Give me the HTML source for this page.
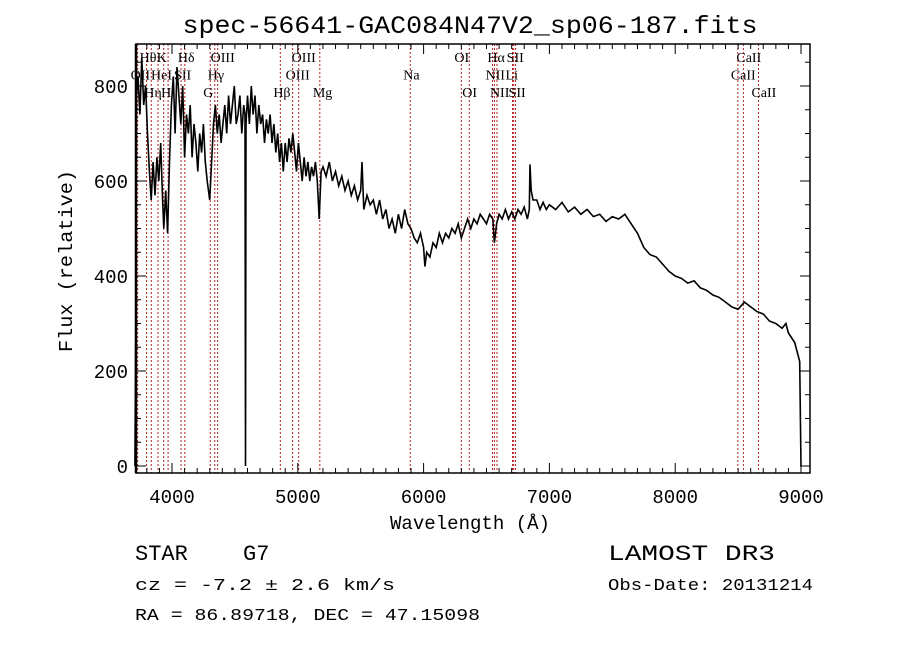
<!DOCTYPE html>
<html><head><meta charset="utf-8"><style>
html,body{margin:0;padding:0;background:#fff;}
svg{display:block;}
.mono{font-family:"Liberation Mono",monospace;fill:#000;}
.ser{font-family:"Liberation Serif",serif;fill:#000;font-size:14px;}
</style></head><body>
<svg id="chart" width="900" height="649" viewBox="0 0 900 649">
<rect width="900" height="649" fill="#fff"/>
<text class="mono" x="470" y="33" text-anchor="middle" font-size="25" textLength="575" lengthAdjust="spacingAndGlyphs">spec-56641-GAC084N47V2_sp06-187.fits</text>
<g id="lines"></g>
<g id="labels"></g>
<g id="plot"></g>
<g id="axes"></g>
<text class="mono" x="470" y="529" text-anchor="middle" font-size="19" textLength="160" lengthAdjust="spacingAndGlyphs">Wavelength (Å)</text>
<text class="mono" x="0" y="0" text-anchor="middle" font-size="19" textLength="182" lengthAdjust="spacingAndGlyphs" transform="translate(72,261) rotate(-90)">Flux (relative)</text>
<text class="mono" x="135" y="560" font-size="22">STAR</text>
<text class="mono" x="243" y="560" font-size="22">G7</text>
<text class="mono" x="608" y="560" font-size="22" textLength="167" lengthAdjust="spacingAndGlyphs">LAMOST DR3</text>
<text class="mono" x="135" y="590" font-size="17" textLength="260" lengthAdjust="spacingAndGlyphs">cz = -7.2 ± 2.6 km/s</text>
<text class="mono" x="608" y="590" font-size="17" textLength="205" lengthAdjust="spacingAndGlyphs">Obs-Date: 20131214</text>
<text class="mono" x="135" y="620" font-size="17" textLength="345" lengthAdjust="spacingAndGlyphs">RA =  86.89718, DEC =  47.15098</text>
</svg>
<script>
const wavelengths=[3705,3712,3718,3730,3745,3760,3775,3790,3805,3820,3835,3850,3865,3880,3895,3910,3925,3935,3950,3965,3980,3995,4010,4025,4040,4055,4070,4085,4100,4115,4130,4145,4160,4175,4190,4205,4220,4235,4250,4265,4280,4300,4315,4330,4345,4360,4375,4390,4405,4420,4435,4450,4465,4480,4495,4510,4525,4540,4555,4570,4580,4584,4588,4600,4615,4630,4645,4660,4675,4690,4705,4720,4735,4750,4765,4780,4795,4810,4825,4840,4855,4870,4885,4900,4915,4930,4945,4960,4975,4990,5005,5020,5035,5050,5065,5080,5095,5110,5125,5140,5155,5170,5185,5200,5225,5250,5275,5300,5325,5350,5375,5400,5425,5450,5475,5500,5510,5525,5550,5575,5600,5625,5650,5675,5700,5725,5750,5775,5800,5825,5850,5875,5900,5925,5950,5975,6000,6010,6025,6050,6075,6100,6125,6150,6175,6200,6225,6250,6275,6300,6325,6350,6375,6400,6425,6450,6475,6500,6525,6550,6563,6580,6600,6625,6650,6675,6700,6725,6750,6775,6800,6825,6840,6846,6855,6870,6900,6925,6950,6975,7000,7050,7100,7150,7200,7250,7300,7350,7400,7450,7500,7550,7600,7650,7700,7750,7800,7850,7900,7950,8000,8050,8100,8150,8200,8250,8300,8350,8400,8450,8500,8550,8600,8650,8700,8750,8800,8850,8880,8900,8950,8990,8995,9000];
const fluxes=[0,300,780,820,740,860,760,800,700,620,560,640,570,650,600,680,560,500,580,490,640,760,820,700,840,780,720,800,650,740,700,760,650,720,680,620,700,660,720,640,600,560,640,720,760,700,740,680,720,760,700,780,720,760,800,720,740,780,700,760,740,0,720,780,720,800,740,780,700,760,720,740,680,730,700,740,680,720,660,700,640,680,620,680,640,690,660,700,660,620,680,640,600,650,610,640,600,630,610,640,600,520,620,630,610,640,600,620,590,610,580,600,570,590,560,580,640,540,570,550,560,530,560,520,540,500,520,490,530,500,540,510,500,480,470,490,460,420,450,440,470,460,490,470,490,480,500,490,510,480,500,520,500,520,510,530,520,510,530,520,470,510,530,520,540,520,535,520,540,530,545,520,540,635,580,560,560,540,555,540,550,540,555,535,545,530,540,525,530,515,525,520,530,510,490,460,445,440,425,410,400,395,385,390,375,370,360,355,345,335,330,345,335,325,320,305,300,290,300,280,260,220,100,0];
const lineWaves=[3727,3798,3835,3889,3934,3969,4072,4102,4304,4340,4363,4861,4959,5007,5175,5894,6300,6363,6548,6563,6583,6707,6716,6731,8498,8542,8662];
const lineNames=["OII","Hθ","Hη","HeI","K","H","SII","Hδ","G","Hγ","OIII","Hβ","OIII","OIII","Mg","Na","OI","OI","NII","Hα","NII","Li","SII","SII","CaII","CaII","CaII"];
const lineRows=[1,0,2,1,0,2,1,0,2,1,0,2,1,0,2,1,0,2,1,0,2,1,0,2,1,0,2];
const xTicks=[4000,5000,6000,7000,8000,9000];
const yTicks=[0,200,400,600,800];
const NS='http://www.w3.org/2000/svg';
const L=136,R=810,T=44,B=473;
const xs=w=>172+(w-4000)*0.1258;
const ys=f=>466-f*0.475;
function mk(tag,attrs,parent){const e=document.createElementNS(NS,tag);for(const k in attrs)e.setAttribute(k,attrs[k]);parent.appendChild(e);return e;}
const gl=document.getElementById('lines'),glab=document.getElementById('labels'),gp=document.getElementById('plot'),ga=document.getElementById('axes');
lineWaves.forEach((w,i)=>{
  const x=xs(w);
  const ln=mk('line',{x1:x,x2:x,y1:T,y2:B,stroke:'#b22222','stroke-width':1,'stroke-dasharray':'2,2'},gl);
  
  
  const t=mk('text',{x:x-7,y:62+lineRows[i]*17.5,class:'ser'},glab);
  t.textContent=lineNames[i];
  
  
});
let pts=wavelengths.map((w,i)=>xs(w).toFixed(1)+','+ys(fluxes[i]).toFixed(1)).join(' ');
const pl=mk('polyline',{points:pts,fill:'none',stroke:'#000','stroke-width':1.6,'stroke-linejoin':'miter'},gp);


const fr=mk('rect',{x:L,y:T,width:R-L,height:B-T,fill:'none',stroke:'#000','stroke-width':1.5},ga);


mk('line',{x1:L,x2:L,y1:T,y2:B,stroke:'#000','stroke-width':2.5},ga);
for(let w=3800;w<=9000;w+=100){
  const x=xs(w);const big=w%1000===0;const len=big?10:5;
  mk('line',{x1:x,x2:x,y1:B,y2:B-len,stroke:'#000'},ga);
  mk('line',{x1:x,x2:x,y1:T,y2:T+len,stroke:'#000'},ga);
}
xTicks.forEach(w=>{const t=mk('text',{x:xs(w),y:503,class:'mono','font-size':19,'text-anchor':'middle'},ga);t.textContent=w;

});
for(let f=0;f<=850;f+=50){
  const y=ys(f);const big=f%200===0;const len=big?10:5;
  mk('line',{x1:L,x2:L+len,y1:y,y2:y,stroke:'#000'},ga);
  mk('line',{x1:R,x2:R-len,y1:y,y2:y,stroke:'#000'},ga);
}
yTicks.forEach(f=>{const t=mk('text',{x:128,y:ys(f)+7,class:'mono','font-size':19,'text-anchor':'end'},ga);t.textContent=f;

});
</script>
</body></html>
